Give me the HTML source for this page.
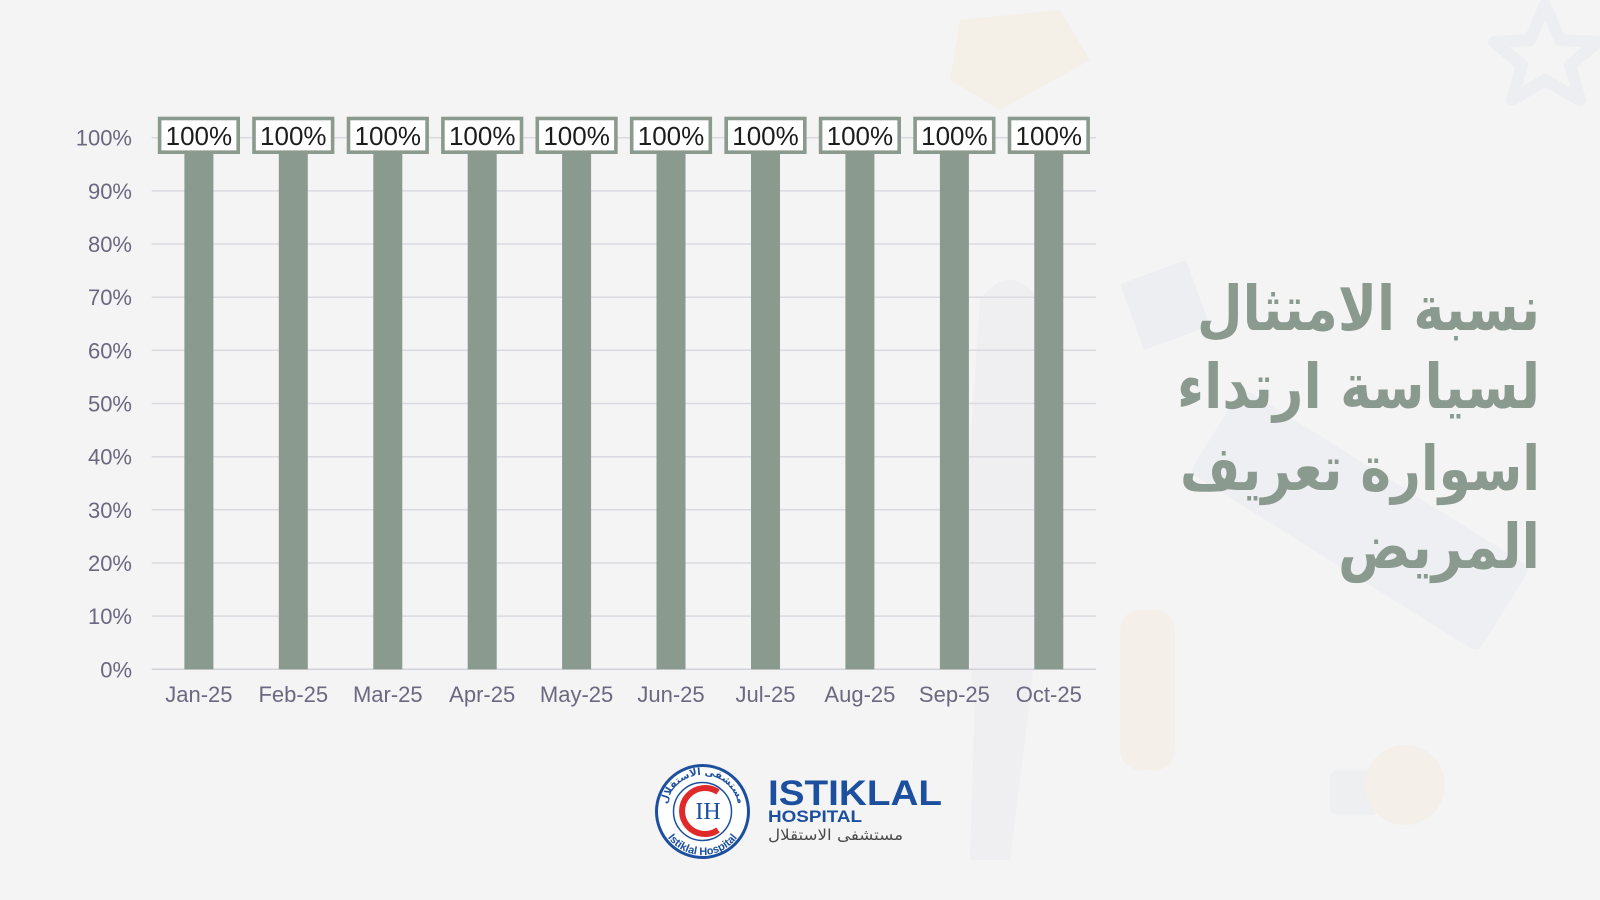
<!DOCTYPE html>
<html><head><meta charset="utf-8">
<style>
html,body{margin:0;padding:0;background:#f4f4f5;}
body{width:1600px;height:900px;overflow:hidden;position:relative;}
svg{position:absolute;left:0;top:0;}
</style></head>
<body>
<svg width="1600" height="900" viewBox="0 0 1600 900" xmlns="http://www.w3.org/2000/svg">
  <defs>
    <path id="topArc" d="M 666 811.5 A 36.5 36.5 0 0 1 739 811.5"/>
    <path id="botArc" d="M 659 811.5 A 43.5 43.5 0 0 0 746 811.5"/>
  </defs>
  <rect width="1600" height="900" fill="#f4f4f5"/>
  <!-- faint background illustration -->
  <g opacity="0.28">
    <path d="M1545 5 L1560 40 L1598 42 L1570 65 L1580 100 L1545 80 L1512 100 L1522 65 L1494 42 L1530 40 Z" fill="none" stroke="#dcdde6" stroke-width="12" stroke-linejoin="round"/>
    <path d="M960 20 L1060 10 L1090 60 L1000 110 L950 80 Z" fill="#f3e2c2"/>
    <rect x="1130" y="270" width="70" height="70" fill="#dcdde4" transform="rotate(-20 1165 305)"/>
    <g transform="rotate(32 1360 520)" fill="#dfe0e8">
      <rect x="1190" y="470" width="340" height="100" rx="8"/>
    </g>
    <rect x="1120" y="610" width="55" height="160" rx="20" fill="#f3e4c8"/>
    <rect x="1330" y="770" width="50" height="45" rx="8" fill="#dfe0e6"/>
    <circle cx="1405" cy="785" r="40" fill="#f3e4c8"/>
    <path d="M980 300 Q1010 260 1040 300 L1060 520 Q1040 600 1030 700 L1010 860 L970 860 L975 700 Q960 600 965 520 Z" fill="#e2e2e8"/>
  </g>

  <!-- gridlines -->
  <g stroke="#dadae0" stroke-width="1.5">
    <line x1="151.7" y1="616.1" x2="1096" y2="616.1"/>
    <line x1="151.7" y1="563.0" x2="1096" y2="563.0"/>
    <line x1="151.7" y1="509.8" x2="1096" y2="509.8"/>
    <line x1="151.7" y1="456.7" x2="1096" y2="456.7"/>
    <line x1="151.7" y1="403.5" x2="1096" y2="403.5"/>
    <line x1="151.7" y1="350.3" x2="1096" y2="350.3"/>
    <line x1="151.7" y1="297.2" x2="1096" y2="297.2"/>
    <line x1="151.7" y1="244.0" x2="1096" y2="244.0"/>
    <line x1="151.7" y1="190.9" x2="1096" y2="190.9"/>
    <line x1="151.7" y1="137.7" x2="1096" y2="137.7"/>
  </g>
  <line x1="151.7" y1="669.3" x2="1096" y2="669.3" stroke="#d2d2da" stroke-width="1.5"/>

  <!-- y labels -->
  <g font-family="Liberation Sans, Arial, sans-serif" font-size="22" fill="#6b6880" text-anchor="end">
    <text x="132" y="677.3">0%</text>
    <text x="132" y="624.1">10%</text>
    <text x="132" y="571.0">20%</text>
    <text x="132" y="517.8">30%</text>
    <text x="132" y="464.7">40%</text>
    <text x="132" y="411.5">50%</text>
    <text x="132" y="358.3">60%</text>
    <text x="132" y="305.2">70%</text>
    <text x="132" y="252.0">80%</text>
    <text x="132" y="198.9">90%</text>
    <text x="132" y="145.7">100%</text>
  </g>

  <!-- bars -->
  <g fill="#8a9a8f">
    <rect x="184.4" y="137.7" width="29" height="531.6"/>
    <rect x="278.8" y="137.7" width="29" height="531.6"/>
    <rect x="373.3" y="137.7" width="29" height="531.6"/>
    <rect x="467.7" y="137.7" width="29" height="531.6"/>
    <rect x="562.1" y="137.7" width="29" height="531.6"/>
    <rect x="656.5" y="137.7" width="29" height="531.6"/>
    <rect x="751.0" y="137.7" width="29" height="531.6"/>
    <rect x="845.4" y="137.7" width="29" height="531.6"/>
    <rect x="939.9" y="137.7" width="29" height="531.6"/>
    <rect x="1034.3" y="137.7" width="29" height="531.6"/>
  </g>

  <!-- data labels -->
  <g fill="#ffffff" stroke="#8a9a8f" stroke-width="3.6">
    <rect x="159.6" y="118.5" width="78.6" height="33.7"/>
    <rect x="254.0" y="118.5" width="78.6" height="33.7"/>
    <rect x="348.5" y="118.5" width="78.6" height="33.7"/>
    <rect x="442.9" y="118.5" width="78.6" height="33.7"/>
    <rect x="537.3" y="118.5" width="78.6" height="33.7"/>
    <rect x="631.7" y="118.5" width="78.6" height="33.7"/>
    <rect x="726.2" y="118.5" width="78.6" height="33.7"/>
    <rect x="820.6" y="118.5" width="78.6" height="33.7"/>
    <rect x="915.1" y="118.5" width="78.6" height="33.7"/>
    <rect x="1009.5" y="118.5" width="78.6" height="33.7"/>
  </g>
  <g font-family="Liberation Sans, Arial, sans-serif" font-size="26" fill="#1c1c1c" text-anchor="middle">
    <text x="198.9" y="145">100%</text>
    <text x="293.3" y="145">100%</text>
    <text x="387.8" y="145">100%</text>
    <text x="482.2" y="145">100%</text>
    <text x="576.6" y="145">100%</text>
    <text x="671.0" y="145">100%</text>
    <text x="765.5" y="145">100%</text>
    <text x="859.9" y="145">100%</text>
    <text x="954.4" y="145">100%</text>
    <text x="1048.8" y="145">100%</text>
  </g>

  <!-- x labels -->
  <g font-family="Liberation Sans, Arial, sans-serif" font-size="22" fill="#6b6880" text-anchor="middle">
    <text x="198.9" y="702">Jan-25</text>
    <text x="293.3" y="702">Feb-25</text>
    <text x="387.8" y="702">Mar-25</text>
    <text x="482.2" y="702">Apr-25</text>
    <text x="576.6" y="702">May-25</text>
    <text x="671.0" y="702">Jun-25</text>
    <text x="765.5" y="702">Jul-25</text>
    <text x="859.9" y="702">Aug-25</text>
    <text x="954.4" y="702">Sep-25</text>
    <text x="1048.8" y="702">Oct-25</text>
  </g>

  <!-- title (Arabic) -->
  <g font-family="DejaVu Sans, sans-serif" font-weight="bold" font-size="62" fill="#8a9a8f">
    <text x="1197" y="330" textLength="343" lengthAdjust="spacingAndGlyphs">نسبة الامتثال</text>
    <text x="1177" y="408" textLength="363" lengthAdjust="spacingAndGlyphs">لسياسة ارتداء</text>
    <text x="1180" y="490" textLength="360" lengthAdjust="spacingAndGlyphs">اسوارة تعريف</text>
    <text x="1338" y="568" textLength="202" lengthAdjust="spacingAndGlyphs">المريض</text>
  </g>

  <!-- logo -->
  <g>
    <circle cx="702.5" cy="811.5" r="46" fill="#ffffff" stroke="#1d4f9f" stroke-width="3"/>
    <circle cx="702.5" cy="811.5" r="29" fill="none" stroke="#1d4f9f" stroke-width="1.5"/>
    <path d="M 718 792 A 23 23 0 1 0 718 830" fill="none" stroke="#e02a2a" stroke-width="6"/>
    <text x="708" y="819" font-family="Liberation Serif, serif" font-size="24" fill="#1d4f9f" text-anchor="middle">IH</text>
    <text font-family="DejaVu Sans, sans-serif" font-size="10" font-weight="bold" fill="#1d4f9f" text-anchor="middle">
      <textPath href="#topArc" startOffset="50%">مستشفى الاستقلال</textPath>
    </text>
    <text font-family="Liberation Sans, Arial, sans-serif" font-size="11" font-weight="bold" fill="#1d4f9f" text-anchor="middle">
      <textPath href="#botArc" startOffset="50%">Istiklal Hospital</textPath>
    </text>
    <text x="768" y="805" font-family="Liberation Sans, Arial, sans-serif" font-weight="bold" font-size="35" fill="#1d4f9f" textLength="174" lengthAdjust="spacingAndGlyphs">ISTIKLAL</text>
    <text x="768" y="822" font-family="Liberation Sans, Arial, sans-serif" font-weight="bold" font-size="16.5" fill="#1d4f9f" textLength="94" lengthAdjust="spacingAndGlyphs">HOSPITAL</text>
    <text x="768" y="840" font-family="DejaVu Sans, sans-serif" font-size="15" fill="#4a4a4a" textLength="135" lengthAdjust="spacingAndGlyphs">مستشفى الاستقلال</text>
  </g>
</svg>
</body></html>
